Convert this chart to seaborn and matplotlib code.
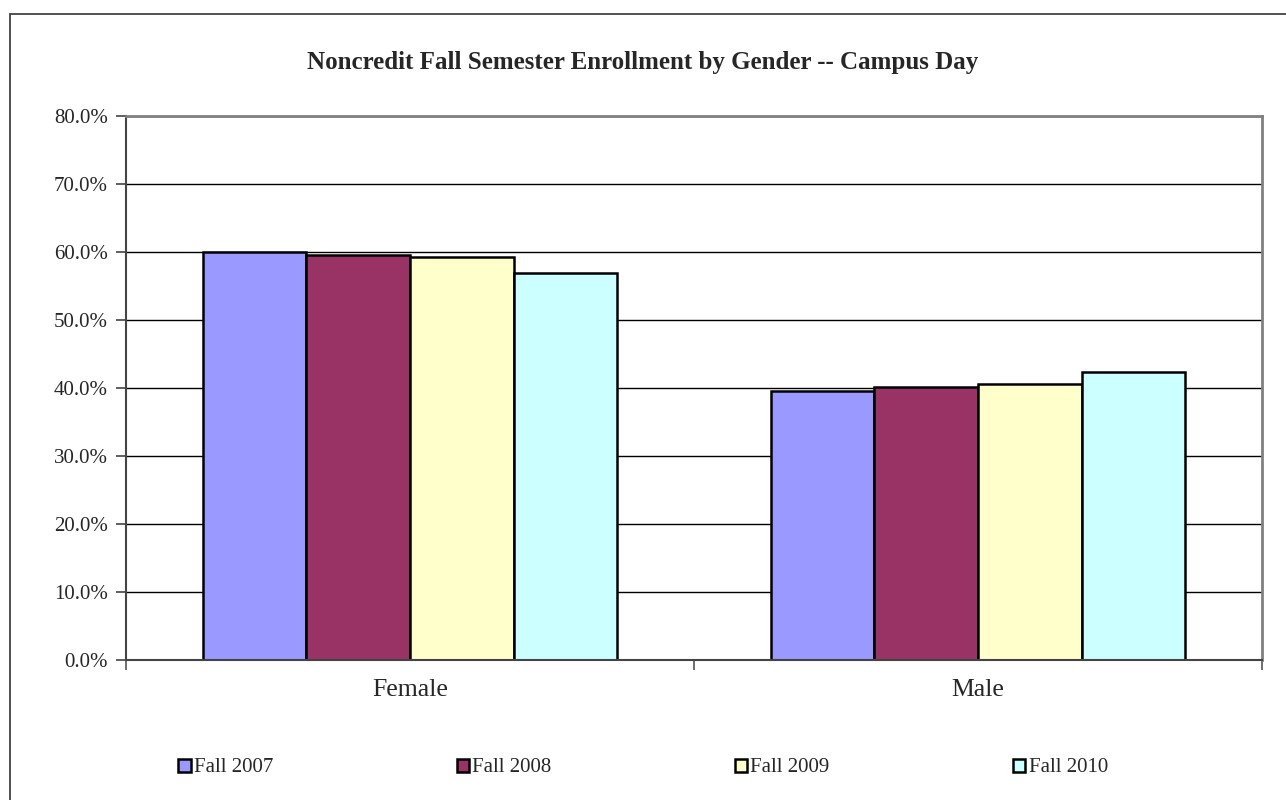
import matplotlib
matplotlib.use("Agg")
import matplotlib.pyplot as plt
import seaborn as sns
import pandas as pd
from matplotlib.patches import Rectangle
from matplotlib.ticker import PercentFormatter, FixedLocator

genders = ["Female", "Male"]
semesters = ["Fall 2007", "Fall 2008", "Fall 2009", "Fall 2010"]
female_vals = [60.0, 59.5, 59.2, 56.9]
male_vals = [39.6, 40.1, 40.6, 42.4]
colors = ["#9999FF", "#993366", "#FFFFCC", "#CCFFFF"]

rows = []
for s, f, m in zip(semesters, female_vals, male_vals):
    rows.append({"Gender": "Female", "Semester": s, "Pct": f})
    rows.append({"Gender": "Male", "Semester": s, "Pct": m})
df = pd.DataFrame(rows)

sns.set_style("white")
plt.rcParams["font.family"] = ["Liberation Serif", "DejaVu Serif"]

fig = plt.figure(figsize=(12.86, 8.0), dpi=100)
ax = fig.add_axes([126/1286, 1-660/800, (1262-126)/1286, (660-116)/800])

sns.barplot(data=df, x="Gender", y="Pct", hue="Semester", order=genders,
            hue_order=semesters, palette=colors, width=0.73, gap=0,
            edgecolor="black", linewidth=1.8, saturation=1, ax=ax, errorbar=None)

ax.set_xlim(-0.5, 1.5)
ax.set_ylim(0, 80)
ax.yaxis.set_major_locator(FixedLocator(range(0, 81, 10)))
ax.yaxis.set_major_formatter(PercentFormatter(decimals=1))
ax.grid(axis="y", color="black", linewidth=1.0)
ax.set_axisbelow(True)
ax.set_xlabel("")
ax.set_ylabel("")
ax.tick_params(axis="y", left=True, labelsize=15, length=7, width=1.2, color="#444444", pad=6)
ax.tick_params(axis="x", which="major", bottom=True, length=0, labelsize=18.5, pad=14)
ax.set_xticks([-0.5, 0.5, 1.5], minor=True)
ax.tick_params(axis="x", which="minor", bottom=True, length=7, width=1.2, color="#555555")
for side in ["top", "right"]:
    ax.spines[side].set_color("#808080")
    ax.spines[side].set_linewidth(2)
ax.spines["left"].set_color("#444444")
ax.spines["bottom"].set_color("#444444")
ax.spines["left"].set_linewidth(1.5)
ax.spines["bottom"].set_linewidth(1.5)

handles, labels = ax.get_legend_handles_labels()
ax.get_legend().remove()
fig.legend(handles, labels, loc="center", bbox_to_anchor=(0.5, 1-768/800), ncol=4,
           frameon=False, fontsize=15, handlelength=0.6, handleheight=0.6,
           handletextpad=0.15, columnspacing=8.8)

fig.text(0.5, 1-62/800, "Noncredit Fall Semester Enrollment by Gender -- Campus Day",
         ha="center", va="center", fontsize=18, fontweight="bold")

fig.patches.append(Rectangle((10/1286, -0.1), 1.2, 1-14/800+0.1, transform=fig.transFigure,
                             fill=False, edgecolor="#333333", linewidth=1.2))

fig.savefig("out.png", dpi=100)
